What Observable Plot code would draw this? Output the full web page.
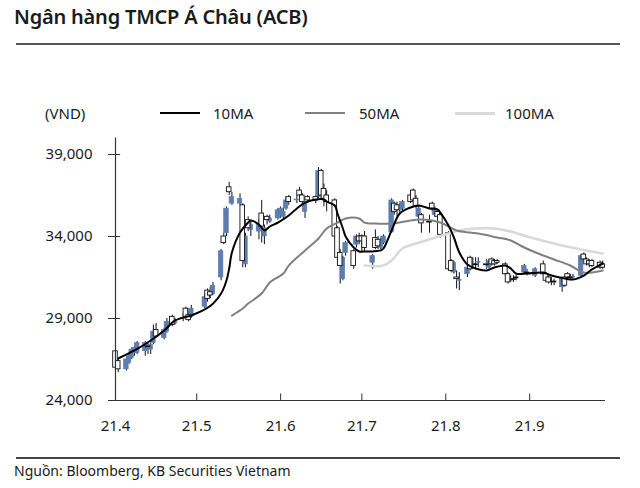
<!DOCTYPE html>
<html><head><meta charset="utf-8">
<script src="https://cdn.jsdelivr.net/npm/d3@7"></script>
<script src="https://cdn.jsdelivr.net/npm/@observablehq/plot@0.6"></script>
<style>
body{margin:0;background:#fff;font-family:"Noto Sans",sans-serif;color:#1a1a1a;}
#wrap{position:relative;width:640px;height:488px;overflow:hidden;}
#title{position:absolute;left:14px;top:3px;font-size:20px;font-weight:600;letter-spacing:-0.2px;white-space:nowrap;}
.hr{position:absolute;left:16px;width:604px;background:#555;}
.lg{position:absolute;font-size:15px;line-height:20px;top:103px;white-space:nowrap;z-index:2;}
.sw{position:absolute;height:2px;top:112px;width:40px;z-index:2;}
#chart{position:absolute;left:0;top:100px;z-index:1;}
#src{position:absolute;left:14px;top:461px;font-size:14px;white-space:nowrap;}
</style></head>
<body><div id="wrap">
<div id="title">Ngân hàng TMCP Á Châu (ACB)</div>
<div class="hr" style="top:43px;height:2px"></div>
<div id="chart"></div>
<div class="lg" style="left:45px">(VND)</div>
<div class="sw" style="left:160px;background:#000"></div><div class="lg" style="left:213px">10MA</div>
<div class="sw" style="left:305px;background:#808080"></div><div class="lg" style="left:359px">50MA</div>
<div class="sw" style="left:455px;background:#d9d9d9;height:3px"></div><div class="lg" style="left:505px">100MA</div>
<div class="hr" style="top:457px;height:1.5px;background:#444"></div>
<div id="src">Nguồn: Bloomberg, KB Securities Vietnam</div>
</div>
<script>
const dates = [
"2021-04-01","2021-04-02","2021-04-05","2021-04-06","2021-04-07","2021-04-08","2021-04-09","2021-04-12","2021-04-13","2021-04-14","2021-04-15","2021-04-16","2021-04-19","2021-04-20","2021-04-22","2021-04-23","2021-04-26","2021-04-27","2021-04-28","2021-04-29",
"2021-05-04","2021-05-05","2021-05-06","2021-05-07","2021-05-10","2021-05-11","2021-05-12","2021-05-13","2021-05-14","2021-05-17","2021-05-18","2021-05-19","2021-05-20","2021-05-21","2021-05-24","2021-05-25","2021-05-26","2021-05-27","2021-05-28","2021-05-31",
"2021-06-01","2021-06-02","2021-06-03","2021-06-04","2021-06-07","2021-06-08","2021-06-09","2021-06-10","2021-06-11","2021-06-14","2021-06-15","2021-06-16","2021-06-17","2021-06-18","2021-06-21","2021-06-22","2021-06-23","2021-06-24","2021-06-25","2021-06-28","2021-06-29","2021-06-30",
"2021-07-01","2021-07-02","2021-07-05","2021-07-06","2021-07-07","2021-07-08","2021-07-09","2021-07-12","2021-07-13","2021-07-14","2021-07-15","2021-07-16","2021-07-19","2021-07-20","2021-07-21","2021-07-22","2021-07-23","2021-07-26","2021-07-27","2021-07-28","2021-07-29","2021-07-30",
"2021-08-02","2021-08-03","2021-08-04","2021-08-05","2021-08-06","2021-08-09","2021-08-10","2021-08-11","2021-08-12","2021-08-13","2021-08-16","2021-08-17","2021-08-18","2021-08-19","2021-08-20","2021-08-23","2021-08-24","2021-08-25","2021-08-26","2021-08-27","2021-08-30","2021-08-31",
"2021-09-03","2021-09-06","2021-09-07","2021-09-08","2021-09-09","2021-09-10","2021-09-13","2021-09-14","2021-09-15","2021-09-16","2021-09-17","2021-09-20","2021-09-21","2021-09-22","2021-09-23","2021-09-24","2021-09-27","2021-09-28"];
const open = [
27000,26400,25900,26300,26600,26900,26900,27000,27300,27100,27500,28300,27800,28200,29100,28700,29000,29600,29200,29100,
29700,30700,30600,30500,31500,34000,34200,37000,36000,36000,35900,32300,35000,34400,34300,35400,34000,35200,34900,35100,
35300,35200,35700,36400,36200,36800,36500,35500,36400,36400,36400,38000,36900,36500,36200,34500,33000,31400,33000,33100,33500,34000,
34000,34000,32400,33900,33800,33300,33600,34250,36000,35900,35600,35700,36500,36800,36300,35200,35300,34900,36000,35300,35500,35300,
34200,32500,31800,31500,31300,31700,32700,32300,32300,32400,32300,32100,32600,32500,32500,32300,31700,31300,31400,31500,31800,31800,
31600,32300,31700,31500,31200,31250,30900,31500,31700,31500,31500,31600,32900,32600,32500,32500,32400,32300];
const high = [
27350,26500,26600,26800,27200,27300,27600,27600,27500,27500,28600,28700,28400,29000,29200,29000,29300,29700,29400,29800,
30500,30800,30900,31200,33200,34200,35800,37300,36700,36600,36000,34200,35200,34900,35000,36200,34700,35300,35300,35700,
35800,35700,36400,36500,36500,37000,36600,36100,36500,36500,38200,38100,37200,36800,36300,34600,33200,32800,33700,33200,34100,34200,
34100,34300,32900,34400,34000,33900,34100,36300,36100,36100,36000,36200,36600,36900,36500,35800,35400,35300,36100,35800,35600,35400,
34300,32600,32500,31900,31800,32200,32800,32700,32700,32700,32600,32600,32700,32600,32600,32400,31800,31600,31600,31700,32300,32000,
32100,32500,31800,31600,31500,31400,31500,31600,31800,31700,31700,32900,33000,32700,32600,32600,32500,32500];
const low = [
25800,25700,25800,26200,26500,26700,26800,26700,26800,26800,27400,27800,27700,28100,28500,28600,28800,29000,28800,29000,
29600,30000,30200,30400,31300,33500,34000,36500,35900,35900,32100,32100,34300,34000,33800,33600,33500,34700,34800,35000,
35100,35000,35600,35900,36000,36400,35900,35100,36000,36000,36300,36200,35800,35500,33800,32500,31100,31300,32800,32000,33300,33500,
33000,33100,32000,33200,33200,33200,33500,34200,35300,35200,35400,35500,36000,36100,35700,35100,34200,34200,35500,35200,35000,33900,
31900,31800,31700,30800,30700,31500,31900,32000,32000,32100,32000,32000,32200,32200,32300,31600,31100,31200,31200,31300,31700,31600,
31500,31600,31200,31100,31000,31000,30600,30900,31400,31400,31400,31500,32500,32200,32100,32100,32000,32000];
const close = [
26000,25900,26500,26700,27100,27200,27500,27500,27250,27400,28200,27900,28300,28800,28600,28800,29050,29100,28900,29600,
30300,30200,30400,31000,33100,33600,35700,36700,36400,36300,32500,34000,34500,34700,34700,34600,34500,35000,35100,35600,
35700,35500,36200,36100,36250,36500,36100,36000,36200,36200,38000,36500,36300,36100,34000,32700,32200,32700,33600,32200,34000,33700,
33700,33300,32800,33300,33400,33600,34000,36200,35500,35600,35900,36100,36100,36200,35800,35700,34800,34850,35700,35600,35200,34100,
32000,31900,32400,31400,31350,32100,32000,32350,32250,32450,32250,32500,32300,32300,32400,31700,31200,31350,31350,31450,32200,31750,
32000,31700,31300,31200,31250,31200,31400,31000,31500,31450,31550,32800,32600,32300,32300,32200,32100,32100];

const ma10Dates = ["2021-04-02","2021-04-08","2021-04-14","2021-04-19","2021-04-23","2021-04-29","2021-05-04","2021-05-07","2021-05-10","2021-05-12","2021-05-13","2021-05-14","2021-05-17","2021-05-20","2021-05-21","2021-05-24","2021-05-26","2021-05-28","2021-05-31","2021-06-04","2021-06-07","2021-06-10","2021-06-14","2021-06-17","2021-06-18","2021-06-21","2021-06-22","2021-06-24","2021-06-25","2021-06-28","2021-06-30","2021-07-02","2021-07-05","2021-07-08","2021-07-09","2021-07-12","2021-07-15","2021-07-19","2021-07-22","2021-07-26","2021-07-29","2021-07-30","2021-08-02","2021-08-04","2021-08-06","2021-08-09","2021-08-12","2021-08-16","2021-08-19","2021-08-23","2021-08-25","2021-08-27","2021-08-31","2021-09-06","2021-09-09","2021-09-14","2021-09-17","2021-09-21","2021-09-24","2021-09-28"];
const ma10 = [26560,27050,27660,28270,28880,29180,29550,29900,30520,31320,32050,33020,34240,34850,34980,34730,34370,34610,34850,35280,35710,36070,36260,36260,36130,35890,35400,34490,34000,33330,33090,33090,33090,33150,33270,34370,35400,35770,35890,35710,35650,35460,34670,33940,33020,32290,32050,31930,32110,32230,32050,31740,31740,31800,31620,31440,31380,31620,31990,32350];
const ma50Dates = ["2021-05-14","2021-05-18","2021-05-20","2021-05-25","2021-05-28","2021-06-02","2021-06-04","2021-06-10","2021-06-15","2021-06-18","2021-06-22","2021-06-25","2021-06-30","2021-07-02","2021-07-06","2021-07-12","2021-07-15","2021-07-19","2021-07-23","2021-07-27","2021-07-30","2021-08-02","2021-08-05","2021-08-10","2021-08-13","2021-08-20","2021-08-25","2021-08-30","2021-09-06","2021-09-10","2021-09-16","2021-09-21","2021-09-28"];
const ma50 = [29180,29610,29910,30520,31200,31740,32230,33150,33880,34490,34850,35100,35100,34850,34790,34790,34850,34980,35040,34980,34850,34610,34370,34240,34180,33940,33760,33330,32840,32600,32230,31800,31930];
const ma100Dates = ["2021-07-02","2021-07-09","2021-07-12","2021-07-16","2021-07-21","2021-07-27","2021-08-02","2021-08-06","2021-08-12","2021-08-19","2021-08-25","2021-08-31","2021-09-07","2021-09-13","2021-09-20","2021-09-28"];
const ma100 = [32230,32230,32540,33270,33570,33880,34180,34370,34490,34490,34300,34000,33700,33450,33210,32960];

const yTicks = [24000, 29000, 34000, 39000];
const xTicks = ["2021-04-01","2021-05-01","2021-06-01","2021-07-01","2021-08-01","2021-09-01"];
const xTickLabels = ["21.4","21.5","21.6","21.7","21.8","21.9"];

const parse = d3.utcParse("%Y-%m-%d");
const rows = dates.map((d, i) => ({date: parse(d), open: open[i], high: high[i], low: low[i], close: close[i]}));
const up = rows.filter(d => d.close > d.open);
const down = rows.filter(d => d.close <= d.open);
const toLine = (ds, vs) => ds.map((d, i) => ({date: parse(d), v: vs[i]}));
const xT = xTicks.map(parse);
const xStart = parse("2021-04-01");
const xEnd = new Date(Date.UTC(2021, 8, 29, 0));
const half = 0.85 * 864e5;
const blue = "#5b7db0";

const chart = Plot.plot({
  width: 640, height: 345,
  marginLeft: 115, marginRight: 35, marginTop: 37.6, marginBottom: 45,
  style: {fontFamily: "Noto Sans", fontSize: "15px", color: "#1a1a1a", background: "transparent"},
  x: {type: "utc", domain: [xStart, xEnd]},
  y: {domain: [24000, 40000]},
  marks: [
    Plot.ruleX(rows, {x: "date", y1: "low", y2: "high", stroke: "#111", strokeWidth: 1}),
    Plot.rect(up, {x1: d => new Date(+d.date - half), x2: d => new Date(+d.date + half), y1: "open", y2: "close", fill: blue, stroke: blue, strokeWidth: 0.6}),
    Plot.rect(down, {x1: d => new Date(+d.date - half), x2: d => new Date(+d.date + half), y1: "open", y2: "close", fill: "#fff", stroke: "#111", strokeWidth: 0.9}),
    Plot.line(toLine(ma100Dates, ma100), {x: "date", y: "v", stroke: "#d9d9d9", strokeWidth: 2.6, curve: "catmull-rom"}),
    Plot.line(toLine(ma50Dates, ma50), {x: "date", y: "v", stroke: "#808080", strokeWidth: 2, curve: "catmull-rom"}),
    Plot.line(toLine(ma10Dates, ma10), {x: "date", y: "v", stroke: "#000", strokeWidth: 2, curve: "catmull-rom"}),
    Plot.ruleY([24000], {stroke: "#333", strokeWidth: 1.2}),
    Plot.ruleX([xStart], {y1: 24000, y2: 40000, stroke: "#333", strokeWidth: 1.2}),
    Plot.ruleX(xT, {y1: 24000, y2: 24400, stroke: "#333"}),
    Plot.ruleY(yTicks, {x1: xStart, x2: new Date(+xStart + 1.9 * 864e5), stroke: "#333"}),
    Plot.axisY({ticks: yTicks, tickSize: 7, tickPadding: 16, tickFormat: d3.format(","), stroke: "#333", fontSize: 15}),
    Plot.axisX({ticks: xT, tickSize: 0, tickPadding: 20, tickFormat: (d, i) => xTickLabels[i], fontSize: 15})
  ]
});
document.getElementById("chart").appendChild(chart);
</script>
</body></html>
